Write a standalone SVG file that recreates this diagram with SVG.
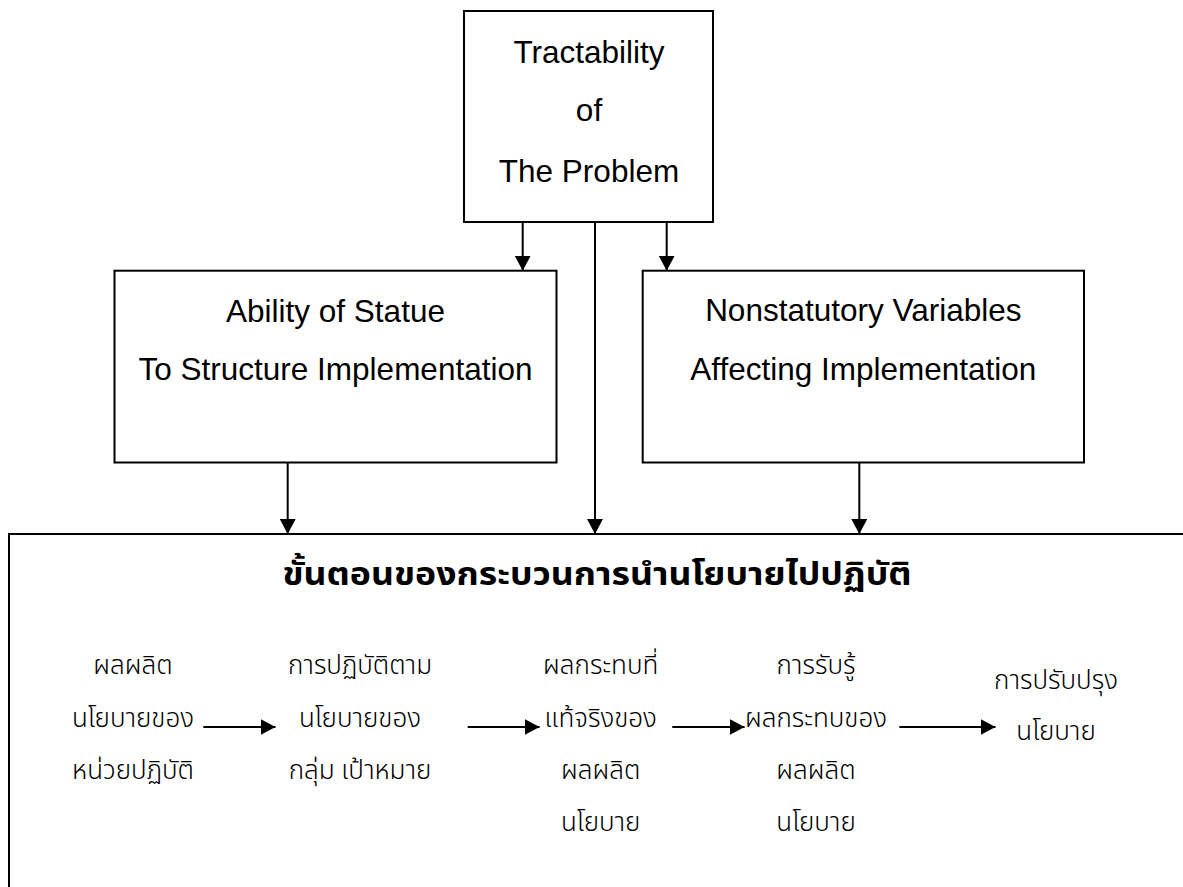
<svg xmlns="http://www.w3.org/2000/svg" width="1183" height="887" viewBox="0 0 1183 887">
<style>
.box{fill:#fff;stroke:#000;stroke-width:2}
.en{font-family:"Liberation Sans",Arial,sans-serif;font-size:31.5px;fill:#000;text-anchor:middle}
.th{font-family:"Noto Sans Thai","Noto Sans","DejaVu Sans",sans-serif;font-size:26px;font-weight:300;fill:#000;text-anchor:middle}
.title{font-family:"Noto Sans Thai","Noto Sans","DejaVu Sans",sans-serif;font-size:32px;font-weight:bold;fill:#000;text-anchor:middle}
.conn{stroke:#000;stroke-width:2;fill:none;marker-end:url(#arr)}
</style>
<defs>
<marker id="arr" markerUnits="userSpaceOnUse" markerWidth="15" markerHeight="16" refX="15" refY="8" orient="auto">
<path d="M0,0 L15,8 L0,16 z" fill="#000"/>
</marker>
</defs>
<rect width="1183" height="887" fill="#fff"/>
<g id="bottom-box">
<rect class="box" x="9" y="534" width="1200" height="400"/>
<text class="title" x="597" y="585" textLength="629" lengthAdjust="spacingAndGlyphs">ขั้นตอนของกระบวนการนำนโยบายไปปฏิบัติ</text>
</g>
<g id="tractability">
<rect class="box" x="464" y="11" width="249" height="211"/>
<text class="en" x="589" y="63">Tractability</text>
<text class="en" x="589" y="121">of</text>
<text class="en" x="589" y="182">The Problem</text>
</g>
<g id="ability">
<rect class="box" x="114.5" y="270.7" width="442" height="191.8"/>
<text class="en" x="335.5" y="322">Ability of Statue</text>
<text class="en" x="335.5" y="380">To Structure Implementation</text>
</g>
<g id="nonstatutory">
<rect class="box" x="642.7" y="270.7" width="441.3" height="191.8"/>
<text class="en" x="863.3" y="321">Nonstatutory Variables</text>
<text class="en" x="863.3" y="380">Affecting Implementation</text>
</g>
<g id="step1">
<text class="th" x="133" y="674">ผลผลิต</text>
<text class="th" x="133" y="727">นโยบายของ</text>
<text class="th" x="133" y="779">หน่วยปฏิบัติ</text>
</g>
<g id="step2">
<text class="th" x="360" y="674">การปฏิบัติตาม</text>
<text class="th" x="360" y="727">นโยบายของ</text>
<text class="th" x="360" y="779">กลุ่ม เป้าหมาย</text>
</g>
<g id="step3">
<text class="th" x="600.7" y="674">ผลกระทบที่</text>
<text class="th" x="600.7" y="727">แท้จริงของ</text>
<text class="th" x="600.7" y="779">ผลผลิต</text>
<text class="th" x="600.7" y="831">นโยบาย</text>
</g>
<g id="step4">
<text class="th" x="816" y="674">การรับรู้</text>
<text class="th" x="816" y="727">ผลกระทบของ</text>
<text class="th" x="816" y="779">ผลผลิต</text>
<text class="th" x="816" y="831">นโยบาย</text>
</g>
<g id="step5">
<text class="th" x="1056" y="689">การปรับปรุง</text>
<text class="th" x="1056" y="740">นโยบาย</text>
</g>
<g id="connectors">
<line class="conn" x1="522.7" y1="222" x2="522.7" y2="270.7"/>
<line class="conn" x1="666.7" y1="222" x2="666.7" y2="270.7"/>
<line class="conn" x1="595" y1="222" x2="595" y2="534"/>
<line class="conn" x1="287.7" y1="462.5" x2="287.7" y2="534"/>
<line class="conn" x1="859.3" y1="462.5" x2="859.3" y2="534"/>
<line class="conn" x1="203.3" y1="727" x2="275.5" y2="727"/>
<line class="conn" x1="467.7" y1="727" x2="539.6" y2="727"/>
<line class="conn" x1="672.3" y1="727" x2="744.6" y2="727"/>
<line class="conn" x1="899.3" y1="727" x2="995.5" y2="727"/>
</g>
</svg>
